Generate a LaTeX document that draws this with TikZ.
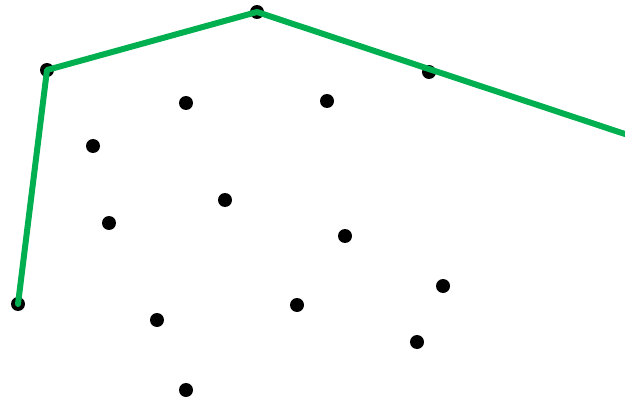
\documentclass[tikz,border=0pt]{standalone}
\usepackage{tikz}
\usepackage{xcolor}
\definecolor{hullgreen}{RGB}{0,176,80}

\begin{document}
\begin{tikzpicture}[x=0.02cm,y=-0.02cm,line cap=round,line join=round,
  pt/.style={circle,fill=black,inner sep=0pt,minimum size=0.28cm}]
\useasboundingbox (0,0) rectangle (625,402);
\node[pt] (a) at (18,304) {};
\node[pt] (b) at (47,70) {};
\node[pt] (c) at (257,12) {};
\node[pt] (d) at (429,72) {};
\node[pt] (e) at (186,103) {};
\node[pt] (f) at (327,101) {};
\node[pt] (g) at (93,146) {};
\node[pt] (h) at (225,200) {};
\node[pt] (i) at (109,223) {};
\node[pt] (j) at (345,236) {};
\node[pt] (k) at (443,286) {};
\node[pt] (l) at (157,320) {};
\node[pt] (m) at (297,305) {};
\node[pt] (n) at (417,342) {};
\node[pt] (o) at (186,390) {};
\coordinate (out) at (625,134);
\draw[hullgreen,line width=0.12cm] (a.center) -- (b.center) -- (c.center) -- (out);
\end{tikzpicture}
\end{document}
